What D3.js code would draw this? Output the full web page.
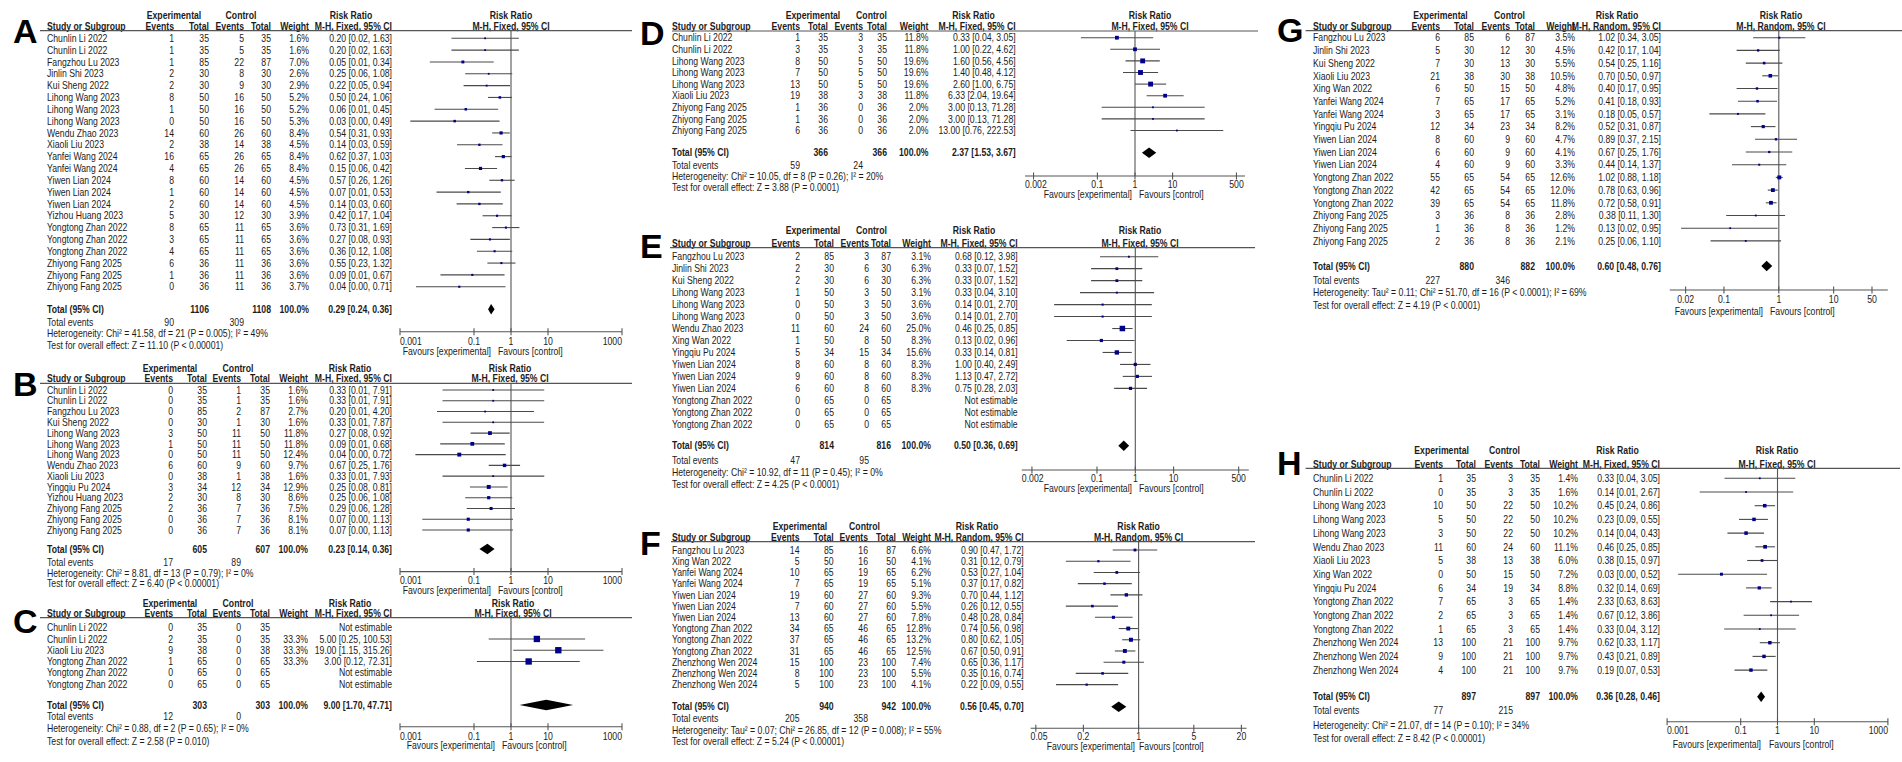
<!DOCTYPE html>
<html><head><meta charset="utf-8">
<script src="https://cdn.jsdelivr.net/npm/d3@7"></script>
<style>
html,body{margin:0;padding:0;background:#fff;}
svg text{font-family:"Liberation Sans",Arial,sans-serif;}
</style></head><body>
<svg id="chart" width="1902" height="762"></svg>
<script>
// ---------- DATA (study, expEvents, expTotal, ctlEvents, ctlTotal, weight%, RR, lower, upper) ----------
const methodFixed = "M-H, Fixed, 95% CI";
const methodRandom = "M-H, Random, 95% CI";

const studiesA = [
 ["Chunlin Li 2022",1,35,5,35,1.6,0.20,0.0246,1.63],
 ["Chunlin Li 2022",1,35,5,35,1.6,0.20,0.0246,1.63],
 ["Fangzhou Lu 2023",1,85,22,87,7.0,0.05,0.0064,0.34],
 ["Jinlin Shi 2023",2,30,8,30,2.6,0.25,0.0578,1.08],
 ["Kui Sheng 2022",2,30,9,30,2.9,0.22,0.0523,0.94],
 ["Lihong Wang 2023",8,50,16,50,5.2,0.50,0.24,1.06],
 ["Lihong Wang 2023",1,50,16,50,5.2,0.06,0.0086,0.45],
 ["Lihong Wang 2023",0,50,16,50,5.3,0.03,0.0019,0.49],
 ["Wendu Zhao 2023",14,60,26,60,8.4,0.54,0.31,0.93],
 ["Xiaoli Liu 2023",2,38,14,38,4.5,0.14,0.0348,0.59],
 ["Yanfei Wang 2024",16,65,26,65,8.4,0.62,0.37,1.03],
 ["Yanfei Wang 2024",4,65,26,65,8.4,0.15,0.0569,0.42],
 ["Yiwen Lian 2024",8,60,14,60,4.5,0.57,0.26,1.26],
 ["Yiwen Lian 2024",1,60,14,60,4.5,0.07,0.0097,0.53],
 ["Yiwen Lian 2024",2,60,14,60,4.5,0.14,0.0339,0.60],
 ["Yizhou Huang 2023",5,30,12,30,3.9,0.42,0.17,1.04],
 ["Yongtong Zhan 2022",8,65,11,65,3.6,0.73,0.31,1.69],
 ["Yongtong Zhan 2022",3,65,11,65,3.6,0.27,0.0798,0.93],
 ["Yongtong Zhan 2022",4,65,11,65,3.6,0.36,0.12,1.08],
 ["Zhiyong Fang 2025",6,36,11,36,3.6,0.55,0.23,1.32],
 ["Zhiyong Fang 2025",1,36,11,36,3.6,0.09,0.0124,0.67],
 ["Zhiyong Fang 2025",0,36,11,36,3.7,0.04,0.0027,0.71]
];
const totalsA = [1106,1108,0.29,0.24,0.36,90,309];
const statsA = ["Heterogeneity: Chi² = 41.58, df = 21 (P = 0.005); I² = 49%","Test for overall effect: Z = 11.10 (P < 0.00001)"];
const ticksA = [0.001,0.1,1,10,1000];

const studiesB = [
 ["Chunlin Li 2022",0,35,1,35,1.6,0.33,0.0141,7.91],
 ["Chunlin Li 2022",0,35,1,35,1.6,0.33,0.0141,7.91],
 ["Fangzhou Lu 2023",0,85,2,87,2.7,0.20,0.0100,4.20],
 ["Kui Sheng 2022",0,30,1,30,1.6,0.33,0.0141,7.87],
 ["Lihong Wang 2023",3,50,11,50,11.8,0.27,0.0809,0.92],
 ["Lihong Wang 2023",1,50,11,50,11.8,0.09,0.0122,0.68],
 ["Lihong Wang 2023",0,50,11,50,12.4,0.04,0.0026,0.72],
 ["Wendu Zhao 2023",6,60,9,60,9.7,0.67,0.25,1.76],
 ["Xiaoli Liu 2023",0,38,1,38,1.6,0.33,0.0141,7.93],
 ["Yingqiu Pu 2024",3,34,12,34,12.9,0.25,0.0774,0.81],
 ["Yizhou Huang 2023",2,30,8,30,8.6,0.25,0.0578,1.08],
 ["Zhiyong Fang 2025",2,36,7,36,7.5,0.29,0.0636,1.28],
 ["Zhiyong Fang 2025",0,36,7,36,8.1,0.07,0.0040,1.13],
 ["Zhiyong Fang 2025",0,36,7,36,8.1,0.07,0.0040,1.13]
];
const totalsB = [605,607,0.23,0.14,0.36,17,89];
const statsB = ["Heterogeneity: Chi² = 8.81, df = 13 (P = 0.79); I² = 0%","Test for overall effect: Z = 6.40 (P < 0.00001)"];
const ticksB = [0.001,0.1,1,10,1000];

const studiesC = [
 ["Chunlin Li 2022",0,35,0,35,null,null,null,null],
 ["Chunlin Li 2022",2,35,0,35,33.3,5.00,0.25,100.53],
 ["Xiaoli Liu 2023",9,38,0,38,33.3,19.00,1.15,315.26],
 ["Yongtong Zhan 2022",1,65,0,65,33.3,3.00,0.12,72.31],
 ["Yongtong Zhan 2022",0,65,0,65,null,null,null,null],
 ["Yongtong Zhan 2022",0,65,0,65,null,null,null,null]
];
const totalsC = [303,303,9.00,1.70,47.71,12,0];
const statsC = ["Heterogeneity: Chi² = 0.88, df = 2 (P = 0.65); I² = 0%","Test for overall effect: Z = 2.58 (P = 0.010)"];
const ticksC = [0.001,0.1,1,10,1000];

const studiesD = [
 ["Chunlin Li 2022",1,35,3,35,11.8,0.33,0.0364,3.05],
 ["Chunlin Li 2022",3,35,3,35,11.8,1.00,0.22,4.62],
 ["Lihong Wang 2023",8,50,5,50,19.6,1.60,0.56,4.56],
 ["Lihong Wang 2023",7,50,5,50,19.6,1.40,0.48,4.12],
 ["Lihong Wang 2023",13,50,5,50,19.6,2.60,1.00,6.75],
 ["Xiaoli Liu 2023",19,38,3,38,11.8,6.33,2.04,19.64],
 ["Zhiyong Fang 2025",1,36,0,36,2.0,3.00,0.13,71.28],
 ["Zhiyong Fang 2025",1,36,0,36,2.0,3.00,0.13,71.28],
 ["Zhiyong Fang 2025",6,36,0,36,2.0,13.00,0.76,222.53]
];
const totalsD = [366,366,2.37,1.53,3.67,59,24];
const statsD = ["Heterogeneity: Chi² = 10.05, df = 8 (P = 0.26); I² = 20%","Test for overall effect: Z = 3.88 (P = 0.0001)"];
const ticksD = [0.002,0.1,1,10,500];

const studiesE = [
 ["Fangzhou Lu 2023",2,85,3,87,3.1,0.68,0.12,3.98],
 ["Jinlin Shi 2023",2,30,6,30,6.3,0.33,0.07,1.52],
 ["Kui Sheng 2022",2,30,6,30,6.3,0.33,0.07,1.52],
 ["Lihong Wang 2023",1,50,3,50,3.1,0.33,0.0359,3.10],
 ["Lihong Wang 2023",0,50,3,50,3.6,0.14,0.0076,2.70],
 ["Lihong Wang 2023",0,50,3,50,3.6,0.14,0.0076,2.70],
 ["Wendu Zhao 2023",11,60,24,60,25.0,0.46,0.25,0.85],
 ["Xing Wan 2022",1,50,8,50,8.3,0.13,0.0162,0.96],
 ["Yingqiu Pu 2024",5,34,15,34,15.6,0.33,0.14,0.81],
 ["Yiwen Lian 2024",8,60,8,60,8.3,1.00,0.40,2.49],
 ["Yiwen Lian 2024",9,60,8,60,8.3,1.13,0.47,2.72],
 ["Yiwen Lian 2024",6,60,8,60,8.3,0.75,0.28,2.03],
 ["Yongtong Zhan 2022",0,65,0,65,null,null,null,null],
 ["Yongtong Zhan 2022",0,65,0,65,null,null,null,null],
 ["Yongtong Zhan 2022",0,65,0,65,null,null,null,null]
];
const totalsE = [814,816,0.50,0.36,0.69,47,95];
const statsE = ["Heterogeneity: Chi² = 10.92, df = 11 (P = 0.45); I² = 0%","Test for overall effect: Z = 4.25 (P < 0.0001)"];
const ticksE = [0.002,0.1,1,10,500];

const studiesF = [
 ["Fangzhou Lu 2023",14,85,16,87,6.6,0.90,0.47,1.72],
 ["Xing Wan 2022",5,50,16,50,4.1,0.31,0.12,0.79],
 ["Yanfei Wang 2024",10,65,19,65,6.2,0.53,0.27,1.04],
 ["Yanfei Wang 2024",7,65,19,65,5.1,0.37,0.17,0.82],
 ["Yiwen Lian 2024",19,60,27,60,9.3,0.70,0.44,1.12],
 ["Yiwen Lian 2024",7,60,27,60,5.5,0.26,0.12,0.55],
 ["Yiwen Lian 2024",13,60,27,60,7.8,0.48,0.28,0.84],
 ["Yongtong Zhan 2022",34,65,46,65,12.8,0.74,0.56,0.98],
 ["Yongtong Zhan 2022",37,65,46,65,13.2,0.80,0.62,1.05],
 ["Yongtong Zhan 2022",31,65,46,65,12.5,0.67,0.50,0.91],
 ["Zhenzhong Wen 2024",15,100,23,100,7.4,0.65,0.36,1.17],
 ["Zhenzhong Wen 2024",8,100,23,100,5.5,0.35,0.16,0.74],
 ["Zhenzhong Wen 2024",5,100,23,100,4.1,0.22,0.09,0.55]
];
const totalsF = [940,942,0.56,0.45,0.70,205,358];
const statsF = ["Heterogeneity: Tau² = 0.07; Chi² = 26.85, df = 12 (P = 0.008); I² = 55%","Test for overall effect: Z = 5.24 (P < 0.00001)"];
const ticksF = [0.05,0.2,1,5,20];

const studiesG = [
 ["Fangzhou Lu 2023",6,85,6,87,3.5,1.02,0.34,3.05],
 ["Jinlin Shi 2023",5,30,12,30,4.5,0.42,0.17,1.04],
 ["Kui Sheng 2022",7,30,13,30,5.5,0.54,0.25,1.16],
 ["Xiaoli Liu 2023",21,38,30,38,10.5,0.70,0.50,0.97],
 ["Xing Wan 2022",6,50,15,50,4.8,0.40,0.17,0.95],
 ["Yanfei Wang 2024",7,65,17,65,5.2,0.41,0.18,0.93],
 ["Yanfei Wang 2024",3,65,17,65,3.1,0.18,0.0543,0.57],
 ["Yingqiu Pu 2024",12,34,23,34,8.2,0.52,0.31,0.87],
 ["Yiwen Lian 2024",8,60,9,60,4.7,0.89,0.37,2.15],
 ["Yiwen Lian 2024",6,60,9,60,4.1,0.67,0.25,1.76],
 ["Yiwen Lian 2024",4,60,9,60,3.3,0.44,0.14,1.37],
 ["Yongtong Zhan 2022",55,65,54,65,12.6,1.02,0.88,1.18],
 ["Yongtong Zhan 2022",42,65,54,65,12.0,0.78,0.63,0.96],
 ["Yongtong Zhan 2022",39,65,54,65,11.8,0.72,0.58,0.91],
 ["Zhiyong Fang 2025",3,36,8,36,2.8,0.38,0.11,1.30],
 ["Zhiyong Fang 2025",1,36,8,36,1.2,0.13,0.0165,0.95],
 ["Zhiyong Fang 2025",2,36,8,36,2.1,0.25,0.0570,1.10]
];
const totalsG = [880,882,0.60,0.48,0.76,227,346];
const statsG = ["Heterogeneity: Tau² = 0.11; Chi² = 51.70, df = 16 (P < 0.0001); I² = 69%","Test for overall effect: Z = 4.19 (P < 0.0001)"];
const ticksG = [0.02,0.1,1,10,50];

const studiesH = [
 ["Chunlin Li 2022",1,35,3,35,1.4,0.33,0.0364,3.05],
 ["Chunlin Li 2022",0,35,3,35,1.6,0.14,0.0077,2.67],
 ["Lihong Wang 2023",10,50,22,50,10.2,0.45,0.24,0.86],
 ["Lihong Wang 2023",5,50,22,50,10.2,0.23,0.09,0.55],
 ["Lihong Wang 2023",3,50,22,50,10.2,0.14,0.0436,0.43],
 ["Wendu Zhao 2023",11,60,24,60,11.1,0.46,0.25,0.85],
 ["Xiaoli Liu 2023",5,38,13,38,6.0,0.38,0.15,0.97],
 ["Xing Wan 2022",0,50,15,50,7.2,0.03,0.0020,0.52],
 ["Yingqiu Pu 2024",6,34,19,34,8.8,0.32,0.14,0.69],
 ["Yongtong Zhan 2022",7,65,3,65,1.4,2.33,0.63,8.63],
 ["Yongtong Zhan 2022",2,65,3,65,1.4,0.67,0.12,3.86],
 ["Yongtong Zhan 2022",1,65,3,65,1.4,0.33,0.0356,3.12],
 ["Zhenzhong Wen 2024",13,100,21,100,9.7,0.62,0.33,1.17],
 ["Zhenzhong Wen 2024",9,100,21,100,9.7,0.43,0.21,0.89],
 ["Zhenzhong Wen 2024",4,100,21,100,9.7,0.19,0.0678,0.53]
];
const totalsH = [897,897,0.36,0.28,0.46,77,215];
const statsH = ["Heterogeneity: Chi² = 21.07, df = 14 (P = 0.10); I² = 34%","Test for overall effect: Z = 8.42 (P < 0.00001)"];
const ticksH = [0.001,0.1,1,10,1000];

// ---------- LAYOUT (positions only) ----------
const colsABC = {name:47, ev1:173, tot1:207, ev2:241, tot2:270, wt:308, ci:392, hExp:170, hCtl:238, hRR:350};
const colsDEF = {name:672, ev1:800, tot1:830, ev2:869, tot2:888, wt:929.5, ci:1016.5, hExp:813, hCtl:871.5, hRR:973.5};
const panels = [
 {id:"A", rows:studiesA, tot:totalsA, stats:statsA, ticks:ticksA, method:methodFixed,
  L:Object.assign({}, colsABC, {ev1:174, tot1:209, ev2:244, tot2:271, wt:309, hExp:174, hCtl:241, hRR:351,
   lx:13, lb:43, h1:15, h2:26, sep:30.7, sepX1:40, sepX2:632, row0:38.3, step:11.83,
   totY:309.3, evY:322, hetY:333.3, testY:345.7, axisY:331.7, tickY:341, favY:351,
   hPlot:511, cx:511, ppd:37, hw:111, favL:491, favR:498})},
 {id:"B", rows:studiesB, tot:totalsB, stats:statsB, ticks:ticksB, method:methodFixed,
  L:Object.assign({}, colsABC, {lx:13, lb:396, h1:368.3, h2:378.3, sep:383.3, sepX1:40, sepX2:632, row0:390, step:10.77,
   totY:549, evY:562, hetY:573.3, testY:583.3, axisY:571.6, tickY:580.6, favY:590,
   hPlot:510, cx:511, ppd:37, hw:111, favL:491, favR:498})},
 {id:"C", rows:studiesC, tot:totalsC, stats:statsC, ticks:ticksC, method:methodFixed,
  L:Object.assign({}, colsABC, {lx:13, lb:633, h1:603.3, h2:613.3, sep:617.7, sepX1:40, sepX2:632, row0:627.7, step:11.26,
   totY:705, evY:716.7, hetY:728.3, testY:741.7, axisY:726.7, tickY:736, favY:745,
   hPlot:513, cx:511, ppd:37, hw:111, favL:495, favR:502})},
 {id:"D", rows:studiesD, tot:totalsD, stats:statsD, ticks:ticksD, method:methodFixed,
  L:Object.assign({}, colsDEF, {ev1:800, tot1:828, ev2:863, tot2:887, wt:928.5, ci:1015.7,
   lx:640, lb:45, h1:15, h2:26, sep:31, sepX1:672, sepX2:1258, row0:37.7, step:11.6,
   totY:152.7, evY:165.7, hetY:176.7, testY:187.3, axisY:176, tickY:184.5, favY:194,
   hPlot:1150, cx:1135, ppd:37.6, hw:110, favL:1132, favR:1139})},
 {id:"E", rows:studiesE, tot:totalsE, stats:statsE, ticks:ticksE, method:methodFixed,
  L:Object.assign({}, colsDEF, {ev1:800, tot1:834, ev2:869, tot2:891, wt:931, ci:1017.7, hRR:974,
   lx:640, lb:258, h1:230, h2:243.3, sep:247.7, sepX1:670, sepX2:1255, row0:256.7, step:11.97,
   totY:445.7, evY:460, hetY:472.3, testY:484, axisY:470, tickY:478.5, favY:488.3,
   hPlot:1140, cx:1135.3, ppd:38.3, hw:113.5, favL:1132, favR:1139})},
 {id:"F", rows:studiesF, tot:totalsF, stats:statsF, ticks:ticksF, method:methodRandom,
  L:Object.assign({}, colsDEF, {ev1:799.5, tot1:833.7, ev2:868, tot2:896, wt:931, ci:1023.7, hExp:800, hCtl:864.5, hRR:977,
   lx:640, lb:555, h1:526.7, h2:537.3, sep:541.7, sepX1:671, sepX2:1255, row0:550, step:11.22,
   totY:706.7, evY:718.7, hetY:730, testY:741, axisY:728.3, tickY:736.5, favY:746,
   hPlot:1138.6, cx:1138.6, ppd:79, hw:108, favL:1135, favR:1139})},
 {id:"G", rows:studiesG, tot:totalsG, stats:statsG, ticks:ticksG, method:methodRandom,
  L:{name:1313, ev1:1440, tot1:1474, ev2:1510, tot2:1535, wt:1575, ci:1661, hExp:1440.5, hCtl:1509.5, hRR:1617,
   lx:1277, lb:42, h1:15, h2:26, sep:30.7, sepX1:1305.6, sepX2:1902, row0:37.7, step:12.7,
   totY:266, evY:280, hetY:292.7, testY:305, axisY:290, tickY:299, favY:311,
   hPlot:1781, cx:1778.8, ppd:54.85, hw:109, favL:1763, favR:1770}},
 {id:"H", rows:studiesH, tot:totalsH, stats:statsH, ticks:ticksH, method:methodFixed,
  L:{name:1313, ev1:1443, tot1:1476, ev2:1513, tot2:1540, wt:1578, ci:1660, hExp:1441.6, hCtl:1504.5, hRR:1617.5,
   lx:1277, lb:475, h1:450, h2:464, sep:468.3, sepX1:1305.6, sepX2:1900, row0:478.3, step:13.7,
   totY:696.7, evY:710.7, hetY:725, testY:738.3, axisY:721.7, tickY:730.7, favY:744,
   hPlot:1777, cx:1777.5, ppd:36.8, hw:110.5, favL:1761, favR:1769}}
];

// ---------- DRAW ----------
const svg = d3.select("#chart");
svg.append("rect").attr("width",1902).attr("height",762).attr("fill","#fff");
const FS = 10.6, SX = 0.82, TXT = "#1c1c1c", LINE = "#4a4a4a", SQ = "#00008b";
const fmt2 = v => v.toFixed(2);
const ciStr = (r,l,h) => `${fmt2(r)} [${fmt2(l)}, ${fmt2(h)}]`;

function label(g, x, yc, s, o = {}) {
  return g.append("text")
    .attr("transform", `translate(${x},${yc + 3.7}) scale(${SX},1)`)
    .attr("text-anchor", o.anchor || "start")
    .attr("font-weight", o.bold ? "bold" : "normal")
    .attr("font-size", FS)
    .attr("fill", TXT)
    .text(s);
}

panels.forEach(p => {
  const L = p.L;
  const g = svg.append("g").attr("class", "panel-" + p.id);
  // panel letter
  g.append("text").attr("x", L.lx).attr("y", L.lb)
    .attr("font-family", '"Liberation Serif","Times New Roman",serif')
    .attr("font-weight", "bold").attr("font-size", 34).attr("fill", "#000").text(p.id);

  // headers
  label(g, L.hExp, L.h1, "Experimental", {anchor:"middle", bold:true});
  label(g, L.hCtl, L.h1, "Control", {anchor:"middle", bold:true});
  label(g, L.hRR, L.h1, "Risk Ratio", {anchor:"middle", bold:true});
  label(g, L.hPlot, L.h1, "Risk Ratio", {anchor:"middle", bold:true});
  label(g, L.name, L.h2, "Study or Subgroup", {bold:true});
  label(g, L.ev1, L.h2, "Events", {anchor:"end", bold:true});
  label(g, L.tot1, L.h2, "Total", {anchor:"end", bold:true});
  label(g, L.ev2, L.h2, "Events", {anchor:"end", bold:true});
  label(g, L.tot2, L.h2, "Total", {anchor:"end", bold:true});
  label(g, L.wt, L.h2, "Weight", {anchor:"end", bold:true});
  label(g, L.ci, L.h2, p.method, {anchor:"end", bold:true});
  label(g, L.hPlot, L.h2, p.method, {anchor:"middle", bold:true});
  g.append("line").attr("x1", L.sepX1).attr("x2", L.sepX2).attr("y1", L.sep).attr("y2", L.sep)
    .attr("stroke", "#555").attr("stroke-width", 1.2);

  // scale
  const R = Math.pow(10, L.hw / L.ppd);
  const x = d3.scaleLog().domain([1 / R, R]).range([L.cx - L.hw, L.cx + L.hw]);
  const y = i => L.row0 + i * L.step;

  // line of no effect
  g.append("line").attr("x1", x(1)).attr("x2", x(1)).attr("y1", L.sep).attr("y2", L.axisY)
    .attr("stroke", "#555").attr("stroke-width", 1.1);

  // study rows
  p.rows.forEach((r, i) => {
    const [name, e1, n1, e2, n2, w, rr, lo, hi] = r;
    const yy = y(i);
    label(g, L.name, yy, name);
    label(g, L.ev1, yy, String(e1), {anchor:"end"});
    label(g, L.tot1, yy, String(n1), {anchor:"end"});
    label(g, L.ev2, yy, String(e2), {anchor:"end"});
    label(g, L.tot2, yy, String(n2), {anchor:"end"});
    if (rr == null) {
      label(g, L.ci, yy, "Not estimable", {anchor:"end"});
      return;
    }
    label(g, L.wt, yy, w.toFixed(1) + "%", {anchor:"end"});
    label(g, L.ci, yy, ciStr(rr, lo, hi), {anchor:"end"});
    g.append("line").attr("x1", x(lo)).attr("x2", x(hi)).attr("y1", yy).attr("y2", yy)
      .attr("stroke", LINE).attr("stroke-width", 1.1);
    const s = Math.max(1.8, 1.1 * Math.sqrt(w));
    g.append("rect").attr("x", x(rr) - s / 2).attr("y", yy - s / 2).attr("width", s).attr("height", s)
      .attr("fill", SQ);
  });

  // totals
  const [t1, t2, trr, tlo, thi, te1, te2] = p.tot;
  label(g, L.name, L.totY, "Total (95% CI)", {bold:true});
  label(g, L.tot1, L.totY, String(t1), {anchor:"end", bold:true});
  label(g, L.tot2, L.totY, String(t2), {anchor:"end", bold:true});
  label(g, L.wt, L.totY, "100.0%", {anchor:"end", bold:true});
  label(g, L.ci, L.totY, ciStr(trr, tlo, thi), {anchor:"end", bold:true});
  const dh = 5.3;
  g.append("path")
    .attr("d", `M${x(tlo)},${L.totY} L${x(trr)},${L.totY - dh} L${x(thi)},${L.totY} L${x(trr)},${L.totY + dh} Z`)
    .attr("fill", "#000");
  label(g, L.name, L.evY, "Total events");
  label(g, L.ev1, L.evY, String(te1), {anchor:"end"});
  label(g, L.ev2, L.evY, String(te2), {anchor:"end"});
  label(g, L.name, L.hetY, p.stats[0]);
  label(g, L.name, L.testY, p.stats[1]);

  // axis
  const ax0 = L.cx - L.hw, ax1 = L.cx + L.hw;
  g.append("line").attr("x1", ax0).attr("x2", ax1).attr("y1", L.axisY).attr("y2", L.axisY)
    .attr("stroke", "#555").attr("stroke-width", 1.1);
  p.ticks.forEach(t => {
    const tx = x(t);
    g.append("line").attr("x1", tx).attr("x2", tx).attr("y1", L.axisY - 3.5).attr("y2", L.axisY + 3.5)
      .attr("stroke", "#555").attr("stroke-width", 1.1);
    const lab = label(g, tx, L.tickY, String(t), {anchor:"middle"});
    const w = lab.node().getComputedTextLength() * SX;
    if (tx - w / 2 < ax0) {
      lab.attr("text-anchor", "start").attr("transform", `translate(${ax0},${L.tickY + 3.7}) scale(${SX},1)`);
    } else if (tx + w / 2 > ax1) {
      lab.attr("text-anchor", "end").attr("transform", `translate(${ax1},${L.tickY + 3.7}) scale(${SX},1)`);
    }
  });
  label(g, L.favL, L.favY, "Favours [experimental]", {anchor:"end"});
  label(g, L.favR, L.favY, "Favours [control]");
});
</script>
</body></html>
